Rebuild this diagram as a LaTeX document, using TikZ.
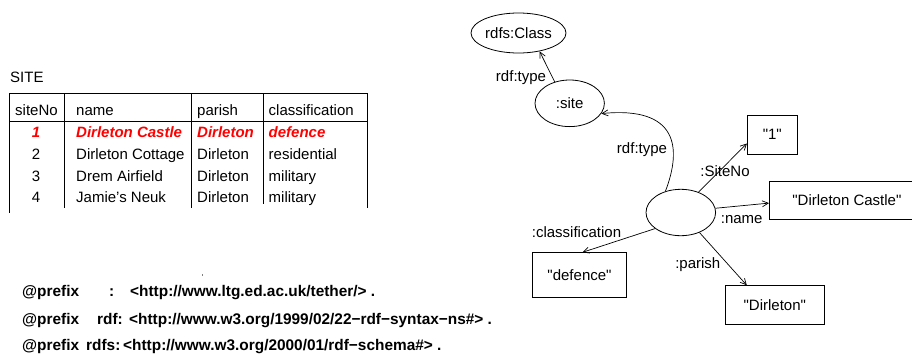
\documentclass[tikz,border=0pt]{standalone}
\usepackage{fontspec}
\setmainfont{Liberation Sans}[Ligatures=TeXOff]
\usetikzlibrary{arrows.meta,shapes.geometric}
\begin{document}
\begin{tikzpicture}[x=1pt,y=-1pt,
  txt/.style={font=\fontsize{15}{18}\selectfont, inner sep=0pt},
  red/.style={txt, text=red, font=\fontsize{15}{18}\selectfont\bfseries\itshape},
  pfx/.style={font=\fontsize{15.4}{18}\selectfont\bfseries, inner sep=0pt, anchor=base west},
  tline/.style={line width=0.8pt},
  ell/.style={ellipse, draw, line width=0.8pt, inner sep=0pt, font=\fontsize{15}{18}\selectfont},
  box/.style={rectangle, draw, line width=0.8pt, inner sep=0pt, font=\fontsize{15}{18}\selectfont},
  arr/.style={-{Straight Barb[length=6pt,width=6pt]}, line width=0.7pt},
  lbl/.style={font=\fontsize{15}{18}\selectfont, inner sep=0pt}]
\useasboundingbox (0,0) rectangle (912,354);
\clip (0,0) rectangle (912,354);

% ---------- table ----------
\node[txt, anchor=base west] (site) at (10,82) {SITE};
\draw[tline] (9.3,93.3) -- (367.7,93.3);
\draw[tline] (9.3,121) -- (367.7,121);
\draw[tline] (9.3,93.3) -- (9.3,213);
\draw[tline] (64.3,93.3) -- (64.3,208);
\draw[tline] (191.7,93.3) -- (191.7,208);
\draw[tline] (263,93.3) -- (263,204);
\draw[tline] (367.7,93.3) -- (367.7,208);

\node[txt, anchor=base west] (h1) at (15,115.7) {siteNo};
\node[txt, anchor=base west] (h2) at (76,115.7) {name};
\node[txt, anchor=base west] (h3) at (197,115.7) {parish};
\node[txt, anchor=base west] (h4) at (268.5,115.7) {classification};

\node[red, anchor=base] (r1a) at (36,137.5) {1};
\node[red, anchor=base west] (r1b) at (76,137.5) {Dirleton Castle};
\node[red, anchor=base west] (r1c) at (197,137.5) {Dirleton};
\node[red, anchor=base west] (r1d) at (268.5,137.5) {defence};

\node[txt, anchor=base] (r2a) at (36,159.3) {2};
\node[txt, anchor=base west] (r2b) at (76,159.3) {Dirleton Cottage};
\node[txt, anchor=base west] (r2c) at (197,159.3) {Dirleton};
\node[txt, anchor=base west] (r2d) at (268.5,159.3) {residential};

\node[txt, anchor=base] (r3a) at (36,181.1) {3};
\node[txt, anchor=base west] (r3b) at (76,181.1) {Drem Airfield};
\node[txt, anchor=base west] (r3c) at (197,181.1) {Dirleton};
\node[txt, anchor=base west] (r3d) at (268.5,181.1) {military};

\node[txt, anchor=base] (r4a) at (36,202.9) {4};
\node[txt, anchor=base west] (r4b) at (76,202.9) {Jamie’s Neuk};
\node[txt, anchor=base west] (r4c) at (197,202.9) {Dirleton};
\node[txt, anchor=base west] (r4d) at (268.5,202.9) {military};

% ---------- prefixes ----------
\fill[gray] (201.5,273.5) rectangle (202.5,275.5);
\node[pfx] (p1a) at (22,296.7) {@prefix};
\node[pfx] (p1b) at (109,296.7) {:};
\node[pfx] (p1c) at (130,296.7) {<http://www.ltg.ed.ac.uk/tether/> .};
\node[pfx] (p2a) at (22,324.5) {@prefix};
\node[pfx] (p2b) at (97,324.5) {rdf:};
\node[pfx] (p2c) at (129,324.5) {<http://www.w3.org/1999/02/22−rdf−syntax−ns\#> .};
\node[pfx] (p3a) at (22,350.5) {@prefix};
\node[pfx] (p3b) at (86,350.5) {rdfs:};
\node[pfx] (p3c) at (123,350.5) {<http://www.w3.org/2000/01/rdf−schema\#> .};

% ---------- graph ----------
\node[ell, minimum width=95pt, minimum height=40pt] (cls) at (518.5,33) {rdfs:Class};
\node[ell, minimum width=69.4pt, minimum height=46.6pt] (sitenode) at (569.7,103.3) {:site};
\node[ell, minimum width=69.6pt, minimum height=46.4pt] (blank) at (680.8,212.5) {};
\node[box, minimum width=50pt, minimum height=39pt] (one) at (772.3,134.5) {"1"};
\node[box, minimum width=155pt, minimum height=38.3pt] (castle) at (846.9,200.1) {"Dirleton Castle"};
\node[box, minimum width=94.4pt, minimum height=44.6pt] (defence) at (579.5,275) {"defence"};
\node[box, minimum width=99pt, minimum height=38.6pt] (dirleton) at (774.8,305) {"Dirleton"};

\draw[arr] (sitenode.125) -- (cls.-41);
\node[lbl] (l1) at (521,78) {rdf:type};

\draw[arr] (blank.126) .. controls (682,148) and (678,106) .. (sitenode.-18);
\node[lbl] (l2) at (642,149.3) {rdf:type};

\draw[arr] (blank.49) -- ([yshift=-9pt]one.west);
\node[lbl] (l3) at (725,171) {:SiteNo};

\draw[arr] (blank.7) -- ([yshift=-3pt]castle.west);
\node[lbl] (l4) at (741.7,220) {:name};

\draw[arr] (blank.212) -- ([xshift=3pt]defence.north);
\node[lbl] (l5) at (576.5,232.3) {:classification};

\draw[arr] (blank.-47) -- ([xshift=-28pt]dirleton.north);
\node[lbl] (l6) at (697.8,265) {:parish};
\end{tikzpicture}
\end{document}
